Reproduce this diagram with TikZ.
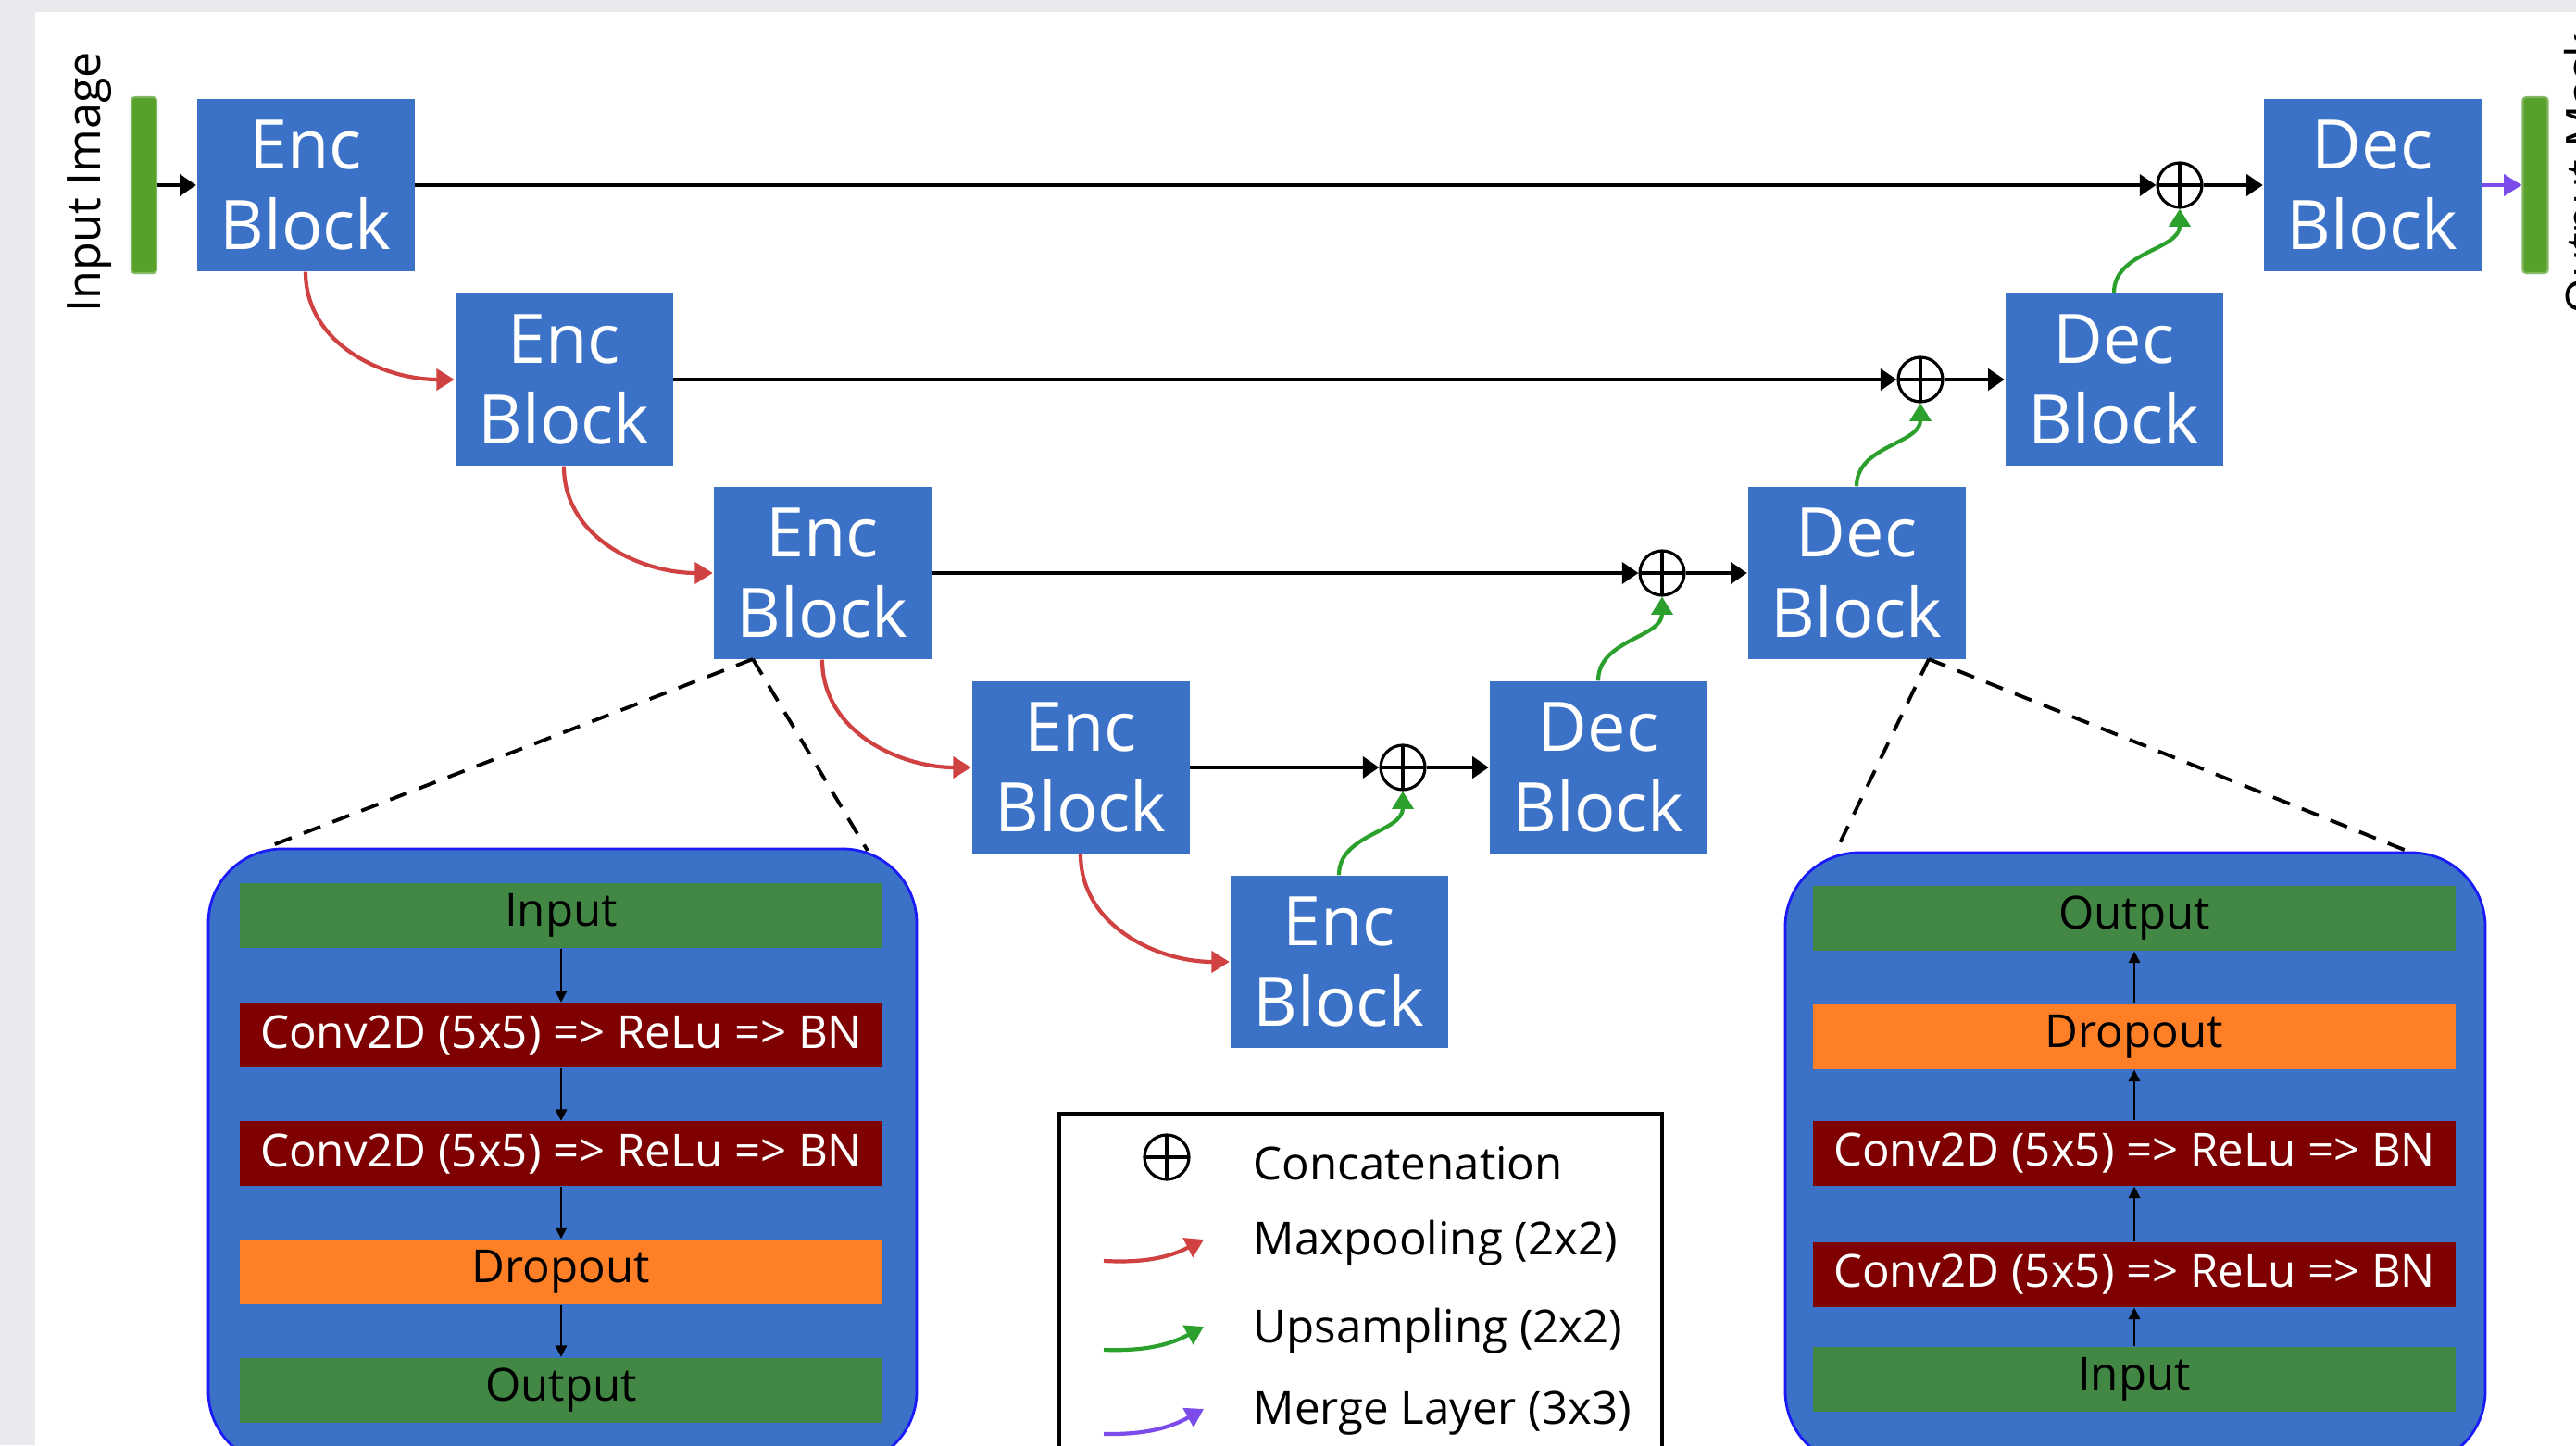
\documentclass[tikz,border=0pt]{standalone}
\usepackage{fontspec}
\setmainfont{Open Sans}
\usetikzlibrary{arrows.meta}
\definecolor{pagegrey}{RGB}{232,234,237}
\definecolor{blockblue}{RGB}{59,114,199}
\definecolor{rimblue}{RGB}{26,26,250}
\definecolor{imggreen}{RGB}{88,160,44}
\definecolor{bargreen}{RGB}{67,135,68}
\definecolor{convred}{RGB}{127,0,0}
\definecolor{droporange}{RGB}{255,127,39}
\definecolor{poolred}{RGB}{208,66,66}
\definecolor{upgreen}{RGB}{44,160,44}
\definecolor{mergepurple}{RGB}{124,76,234}

\begin{document}
\begin{tikzpicture}[
	encblock/.style={fill=blockblue, text=white, minimum width=2.35cm, minimum height=1.86cm, inner sep=0pt, align=center, font=\fontsize{21}{24.5}\selectfont},
	imgbar/.style={fill=imggreen, draw=imggreen!75!white, line width=0.6pt, rounded corners=1pt, minimum width=0.27cm, minimum height=1.9cm, inner sep=0pt},
	concat/.style={circle, draw, line width=0.9pt, minimum size=0.48cm, inner sep=0pt, path picture={\draw[line width=0.9pt] (path picture bounding box.north) -- (path picture bounding box.south) (path picture bounding box.west) -- (path picture bounding box.east);}},
	skipline/.style={line width=1.2pt, -{Triangle[length=5pt,width=6.5pt]}},
	poolarrow/.style={poolred, line width=1.2pt, -{Triangle[length=5.5pt,width=6.5pt]}},
	uparrow/.style={upgreen, line width=1.2pt, -{Triangle[length=5.5pt,width=6.5pt]}},
	mergearrow/.style={mergepurple, line width=1.2pt, -{Triangle[length=5.5pt,width=6.5pt]}},
	detailbox/.style={fill=blockblue, draw=rimblue, line width=0.8pt, rounded corners=0.8cm, inner sep=0pt},
	barbox/.style={minimum width=6.94cm, minimum height=0.7cm, inner sep=0pt, font=\fontsize{14}{16}\selectfont},
	greenbar/.style={barbox, fill=bargreen, text=black},
	redbar/.style={barbox, fill=convred, text=white},
	orangebar/.style={barbox, fill=droporange, text=black},
	layerarrow/.style={line width=0.6pt, -{Triangle[length=3.5pt,width=3.5pt]}},
	zoomline/.style={line width=1.1pt, dash pattern=on 5.5pt off 4pt},
	legtext/.style={anchor=base west, inner sep=0pt, font=\fontsize{14}{16}\selectfont},
	sidelabel/.style={rotate=90, anchor=north, inner sep=0pt, font=\fontsize{14.3}{16}\selectfont}
]
	\useasboundingbox (0,0) rectangle (27.82,15.61);
	\fill[pagegrey] (0,0) rectangle (27.82,15.61);
	\fill[white] (0.38,0) rectangle (27.82,15.48);

	\node[sidelabel] (inlabel) at (0.72,13.64) {Input Image};
	\node[sidelabel] (outlabel) at (27.69,13.73) {Output Mask};
	\node[imgbar] (inbar) at (1.555,13.61) {};
	\node[imgbar] (outbar) at (27.38,13.61) {};

	\node[encblock] (enc1) at (3.30,13.61) {Enc\\Block};
	\node[encblock] (enc2) at (6.09,11.51) {Enc\\Block};
	\node[encblock] (enc3) at (8.88,9.42) {Enc\\Block};
	\node[encblock] (enc4) at (11.67,7.32) {Enc\\Block};
	\node[encblock] (enc5) at (14.46,5.22) {Enc\\Block};
	\node[encblock] (dec4) at (17.26,7.32) {Dec\\Block};
	\node[encblock] (dec3) at (20.05,9.42) {Dec\\Block};
	\node[encblock] (dec2) at (22.83,11.51) {Dec\\Block};
	\node[encblock] (dec1) at (25.62,13.61) {Dec\\Block};

	\node[concat] (cat1) at (23.54,13.61) {};
	\node[concat] (cat2) at (20.74,11.51) {};
	\node[concat] (cat3) at (17.95,9.42) {};
	\node[concat] (cat4) at (15.15,7.32) {};

	\draw[skipline] (inbar) -- (enc1);
	\draw[skipline] (enc1) -- (cat1);
	\draw[skipline] (cat1) -- (dec1);
	\draw[skipline] (enc2) -- (cat2);
	\draw[skipline] (cat2) -- (dec2);
	\draw[skipline] (enc3) -- (cat3);
	\draw[skipline] (cat3) -- (dec3);
	\draw[skipline] (enc4) -- (cat4);
	\draw[skipline] (cat4) -- (dec4);
	\draw[mergearrow] (dec1) -- (outbar);

	\draw[poolarrow] (enc1.south) to[out=-90,in=180] (enc2.west);
	\draw[poolarrow] (enc2.south) to[out=-90,in=180] (enc3.west);
	\draw[poolarrow] (enc3.south) to[out=-90,in=180] (enc4.west);
	\draw[poolarrow] (enc4.south) to[out=-90,in=180] (enc5.west);

	\draw[uparrow] (enc5.north) to[out=90,in=-90] (cat4.south);
	\draw[uparrow] (dec4.north) to[out=90,in=-90] (cat3.south);
	\draw[uparrow] (dec3.north) to[out=90,in=-90] (cat2.south);
	\draw[uparrow] (dec2.north) to[out=90,in=-90] (cat1.south);

	\node[detailbox, minimum width=7.65cm, minimum height=6.66cm] (encdetail) at (6.075,3.11) {};
	\node[greenbar] (ein) at (6.06,5.72) {Input};
	\node[redbar] (econva) at (6.06,4.425) {Conv2D (5x5) => ReLu => BN};
	\node[redbar] (econvb) at (6.06,3.145) {Conv2D (5x5) => ReLu => BN};
	\node[orangebar] (edrop) at (6.06,1.87) {Dropout};
	\node[greenbar] (eout) at (6.06,0.595) {Output};
	\draw[layerarrow] (ein) -- (econva);
	\draw[layerarrow] (econva) -- (econvb);
	\draw[layerarrow] (econvb) -- (edrop);
	\draw[layerarrow] (edrop) -- (eout);

	\node[detailbox, minimum width=7.56cm, minimum height=6.62cm] (decdetail) at (23.06,3.09) {};
	\node[greenbar] (dout) at (23.05,5.69) {Output};
	\node[orangebar] (ddrop) at (23.05,4.41) {Dropout};
	\node[redbar] (dconva) at (23.05,3.15) {Conv2D (5x5) => ReLu => BN};
	\node[redbar] (dconvb) at (23.05,1.84) {Conv2D (5x5) => ReLu => BN};
	\node[greenbar] (din) at (23.05,0.71) {Input};
	\draw[layerarrow] (din) -- (dconvb);
	\draw[layerarrow] (dconvb) -- (dconva);
	\draw[layerarrow] (dconva) -- (ddrop);
	\draw[layerarrow] (ddrop) -- (dout);

	\coordinate (ezoom) at (8.13,8.49);
	\coordinate (ezooma) at (2.84,6.44);
	\coordinate (ezoomb) at (9.37,6.42);
	\coordinate (dzoom) at (20.83,8.49);
	\coordinate (dzooma) at (19.82,6.40);
	\coordinate (dzoomb) at (26.04,6.40);
	\draw[zoomline] (ezoom) -- (ezooma);
	\draw[zoomline] (ezoom) -- (ezoomb);
	\draw[zoomline] (dzoom) -- (dzooma);
	\draw[zoomline] (dzoom) -- (dzoomb);

	\node[draw, line width=1.1pt, minimum width=6.51cm, minimum height=3.88cm, inner sep=0pt] (legend) at (14.695,1.64) {};
	\node[concat] (legcat) at (12.60,3.11) {};
	\node[legtext] (legcattext) at (13.53,2.87) {Concatenation};
	\node[legtext] (legpooltext) at (13.53,2.06) {Maxpooling (2x2)};
	\node[legtext] (leguptext) at (13.53,1.11) {Upsampling (2x2)};
	\node[legtext] (legmergetext) at (13.53,0.23) {Merge Layer (3x3)};
	\coordinate (poola) at (11.92,1.99);
	\coordinate (poolb) at (13.00,2.22);
	\coordinate (upa) at (11.92,1.03);
	\coordinate (upb) at (13.00,1.28);
	\coordinate (mergea) at (11.92,0.12);
	\coordinate (mergeb) at (13.00,0.39);
	\draw[poolarrow] (poola) to[bend right=15] (poolb);
	\draw[uparrow] (upa) to[bend right=15] (upb);
	\draw[mergearrow] (mergea) to[bend right=15] (mergeb);
\end{tikzpicture}
\end{document}
